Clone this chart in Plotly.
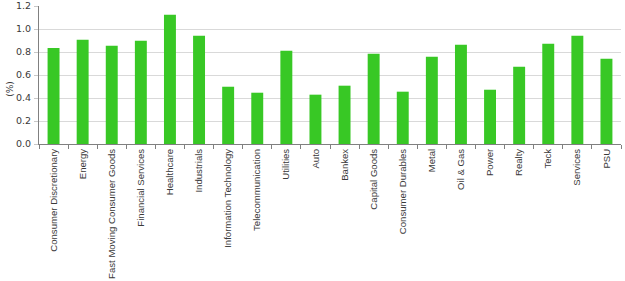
import plotly.graph_objects as go

categories = ["Consumer Discretionary", "Energy", "Fast Moving Consumer Goods",
              "Financial Services", "Healthcare", "Industrials",
              "Information Technology", "Telecommunication", "Utilities", "Auto",
              "Bankex", "Capital Goods", "Consumer Durables", "Metal", "Oil & Gas",
              "Power", "Realty", "Teck", "Services", "PSU"]
values = [0.835, 0.907, 0.855, 0.898, 1.124, 0.942, 0.498, 0.446, 0.811, 0.429,
          0.507, 0.785, 0.455, 0.759, 0.863, 0.472, 0.672, 0.872, 0.942, 0.742]
y_ticks = [0.0, 0.2, 0.4, 0.6, 0.8, 1.0, 1.2]
y_tick_labels = ["0.0", "0.2", "0.4", "0.6", "0.8", "1.0", "1.2"]
y_title = "(%)"

fig = go.Figure(go.Bar(x=categories, y=values, marker=dict(color="#38c825", line=dict(width=0))))

fig.update_layout(
    width=625, height=281,
    margin=dict(l=39, r=4, t=6, b=137),
    paper_bgcolor="white", plot_bgcolor="white",
    bargap=0.59, showlegend=False,
    font=dict(family="DejaVu Sans", size=9, color="#3a3a3a"),
)
fig.update_xaxes(
    type="category", tickangle=-90, showline=True, linecolor="#808080", linewidth=1,
    ticks="outside", tickson="boundaries", ticklen=4, tickcolor="#808080",
    tickfont=dict(family="Liberation Sans", size=9.6, color="#3a3a3a"),
    showgrid=False, automargin=False,
)
fig.update_yaxes(
    range=[0, 1.2], tickvals=y_ticks, ticktext=y_tick_labels,
    showline=True, linecolor="#808080", linewidth=1,
    showgrid=True, gridcolor="#d9d9d9", gridwidth=1, zeroline=False,
    ticks="outside", ticklen=4, tickcolor="#c8c8c8", ticklabelstandoff=1, automargin=False,
    tickfont=dict(family="DejaVu Sans", size=9.5, color="#3a3a3a"),
)
fig.add_annotation(
    text=y_title, xref="paper", yref="paper", x=-0.05, y=0.40,
    xanchor="center", yanchor="middle", textangle=-90, showarrow=False,
    font=dict(family="DejaVu Sans", size=9, color="#3a3a3a"),
)

fig.write_html("out.html")
